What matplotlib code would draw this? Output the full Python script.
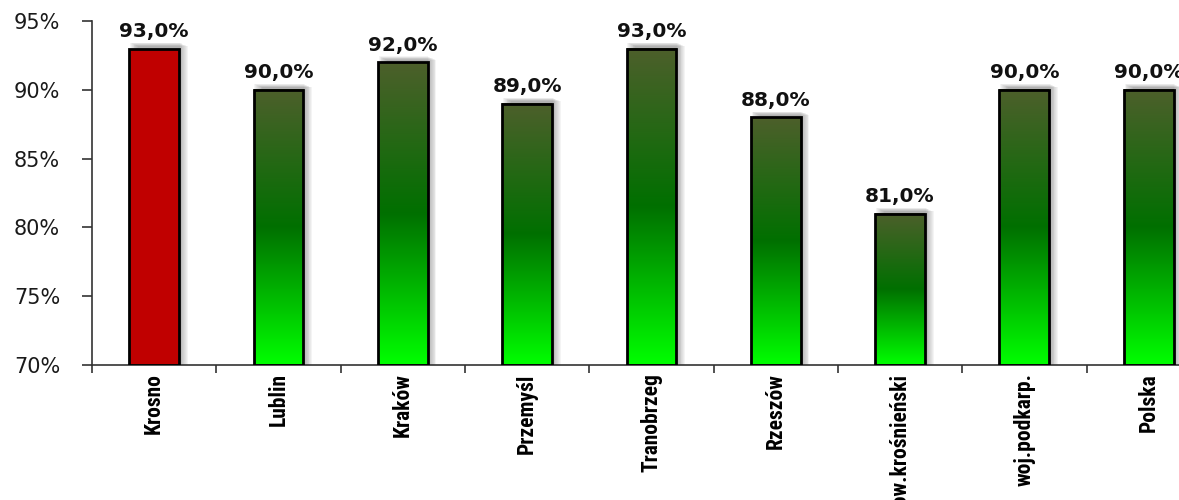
import numpy as np
import matplotlib.pyplot as plt
from matplotlib.colors import LinearSegmentedColormap
from matplotlib.patches import Rectangle
from matplotlib import font_manager

categories = ['Krosno', 'Lublin', 'Kraków', 'Przemyśl', 'Tranobrzeg', 'Rzeszów',
              'pow.krośnieński', 'woj.podkarp.', 'Polska']
values = [93.0, 90.0, 92.0, 89.0, 93.0, 88.0, 81.0, 90.0, 90.0]
highlight = 'Krosno'
y_ticks = [70, 75, 80, 85, 90, 95]

green = LinearSegmentedColormap.from_list(
    'grn', [(0.0, '#00ff00'), (0.5, '#007000'), (1.0, '#4d5f2b')])

# condensed font for category labels, if one exists
names = {f.name for f in font_manager.fontManager.ttflist}
narrow = [n for n in ['Liberation Sans Narrow', 'DejaVu Sans Condensed', 'Roboto Condensed']
          if n in names]

fig = plt.figure(figsize=(11.79, 5), dpi=100)
ax = fig.add_axes([0.078, 0.27, 0.949, 0.688])

bar_w = 0.4
x = np.arange(len(categories))
grad = np.linspace(0, 1, 256).reshape(-1, 1)

for xi, cat, v in zip(x, categories, values):
    x0, x1 = xi - bar_w / 2, xi + bar_w / 2
    # soft shadow on the right
    for k in range(10):
        off = 0.007 * (k + 1)
        ax.add_patch(Rectangle((x0 + off, 70), bar_w, v - 70 + 0.45 - off * 4,
                               facecolor='#707070', edgecolor='none', alpha=0.07, zorder=1))
    if cat == highlight:
        ax.add_patch(Rectangle((x0, 70), bar_w, v - 70, facecolor='#c00000',
                               edgecolor='none', zorder=2))
    else:
        ax.imshow(grad, extent=[x0, x1, 70, v], origin='lower', aspect='auto',
                  cmap=green, zorder=2, interpolation='bilinear')
    ax.text(xi, v + 0.55, f"{v:.1f}%".replace('.', ','), ha='center', va='bottom',
            fontsize=14.5, fontweight='bold', color='#111111', zorder=4)

ax.bar(x, [v - 70 for v in values], bottom=70, width=bar_w, fill=False,
       edgecolor='black', linewidth=2, zorder=3)

ax.set_xlim(-0.5, len(categories) - 0.5)
ax.set_ylim(70, 95)
ax.set_yticks(y_ticks)
ax.set_yticklabels([f"{t}%" for t in y_ticks], fontsize=15, color='#1a1a1a')
ax.set_xticks(x)
ax.set_xticklabels(categories, rotation=90, fontsize=15.5, fontweight='bold',
                   family=narrow + ['DejaVu Sans'], fontstretch='condensed')
ax.tick_params(axis='x', length=0, pad=6)
ax.set_xticks(np.arange(-0.5, len(categories), 1), minor=True)
ax.tick_params(axis='x', which='minor', length=6, width=1.2, color='#333333')
ax.tick_params(axis='y', length=7, width=1.2, color='#333333', pad=16)

for s in ['top', 'right']:
    ax.spines[s].set_visible(False)
for s in ['left', 'bottom']:
    ax.spines[s].set_linewidth(1.2)
    ax.spines[s].set_color('#333333')

fig.savefig('out.png', dpi=100)
